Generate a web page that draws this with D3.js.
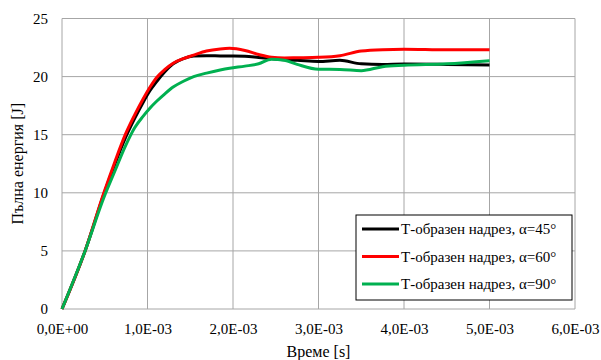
<!DOCTYPE html>
<html>
<head>
<meta charset="utf-8">
<script src="https://cdn.jsdelivr.net/npm/d3@7"></script>
<style>
body{margin:0;background:#fff;}
svg text{font-family:"Liberation Serif","Times New Roman","Tinos","DejaVu Serif","Noto Serif",serif;fill:#000;}
</style>
</head>
<body>
<svg id="chart" width="601" height="360"></svg>
<script>
// Time in units of 1E-3 s
const times = [0, 0.27, 0.49, 0.62, 0.74, 0.85, 0.95, 1.03, 1.11, 1.2, 1.3, 1.42, 1.54, 1.69, 1.85, 1.96, 2.14, 2.3, 2.45, 2.6, 2.75, 3.0, 3.25, 3.5, 3.75, 4.0, 4.5, 5.0];
const black45 = [0, 5, 9.9, 12.5, 14.7, 16.4, 17.8, 18.8, 19.6, 20.4, 21.1, 21.55, 21.77, 21.8, 21.78, 21.77, 21.75, 21.65, 21.55, 21.45, 21.4, 21.3, 21.4, 21.1, 21.05, 21.08, 21.05, 21.0];
const red60 = [0, 5, 10, 12.7, 15.0, 16.7, 18.1, 19.1, 19.95, 20.6, 21.15, 21.55, 21.85, 22.2, 22.38, 22.43, 22.25, 21.9, 21.66, 21.6, 21.62, 21.66, 21.8, 22.2, 22.32, 22.35, 22.3, 22.3];
const green90 = [0, 5, 9.6, 11.9, 14.0, 15.6, 16.6, 17.3, 17.9, 18.5, 19.1, 19.6, 20.0, 20.3, 20.57, 20.72, 20.9, 21.1, 21.5, 21.4, 21.05, 20.63, 20.62, 20.51, 20.85, 20.97, 21.1, 21.37];
const seriesNames = ["Т-образен надрез, α=45°", "Т-образен надрез, α=60°", "Т-образен надрез, α=90°"];
const seriesColors = ["#000000", "#ff0000", "#00b050"];
const xTicks = [0, 1, 2, 3, 4, 5, 6];
const xTickLabels = ["0,0E+00", "1,0E-03", "2,0E-03", "3,0E-03", "4,0E-03", "5,0E-03", "6,0E-03"];
const yTicks = [0, 5, 10, 15, 20, 25];
const xTitle = "Време [s]";
const yTitle = "Пълна енергия [J]";

const FONT = "'Liberation Serif','Times New Roman','Tinos','DejaVu Serif','Noto Serif',serif";
const svg = d3.select("#chart");
const pLeft = 62, pRight = 575, pTop = 18.5, pBottom = 309;
const x = d3.scaleLinear().domain([0, 6]).range([pLeft, pRight]);
const y = d3.scaleLinear().domain([0, 25]).range([pBottom, pTop]);

// gridlines
const grid = svg.append("g");
grid.selectAll("line.v").data(xTicks).enter().append("line")
  .attr("x1", d => x(d)).attr("x2", d => x(d))
  .attr("y1", y(0)).attr("y2", y(25))
  .attr("stroke", "#a6a6a6").attr("stroke-width", 1);
grid.selectAll("line.h").data(yTicks).enter().append("line")
  .attr("x1", x(0)).attr("x2", x(6))
  .attr("y1", d => y(d)).attr("y2", d => y(d))
  .attr("stroke", "#a6a6a6").attr("stroke-width", 1);

// axes with library
const xAxis = d3.axisBottom(x).tickValues(xTicks).tickSize(0).tickPadding(14)
  .tickFormat((d, i) => xTickLabels[i]);
const gx = svg.append("g").attr("transform", `translate(0,${pBottom})`).call(xAxis)
  .attr("font-family", FONT);
gx.select(".domain").remove();
gx.selectAll("text").style("font-size", "15px").style("font-family", FONT);

const yAxis = d3.axisLeft(y).tickValues(yTicks).tickSize(0).tickPadding(14);
const gy = svg.append("g").attr("transform", `translate(${pLeft},0)`).call(yAxis)
  .attr("font-family", FONT);
gy.select(".domain").remove();
gy.selectAll("text").style("font-size", "15px").style("font-family", FONT);

// series lines
const allSeries = [black45, red60, green90];
const line = d3.line().x(d => x(d[0])).y(d => y(d[1])).curve(d3.curveMonotoneX);
allSeries.forEach((vals, i) => {
  svg.append("path")
    .datum(times.map((t, j) => [t, vals[j]]))
    .attr("d", line)
    .attr("fill", "none")
    .attr("stroke", seriesColors[i])
    .attr("stroke-width", 3)
    .attr("stroke-linejoin", "round");
});

// titles
svg.append("text").attr("x", (pLeft + pRight) / 2).attr("y", 357)
  .attr("text-anchor", "middle").style("font-size", "16px").style("font-family", FONT).text(xTitle);
svg.append("text").attr("transform", `translate(23,${(pTop + pBottom) / 2}) rotate(-90)`)
  .attr("text-anchor", "middle").style("font-size", "16px").style("font-family", FONT).text(yTitle);

// legend
const lg = svg.append("g");
lg.append("rect").attr("x", 356).attr("y", 215).attr("width", 216).attr("height", 85)
  .attr("fill", "#fff").attr("stroke", "#000").attr("stroke-width", 1);
seriesNames.forEach((name, i) => {
  const cy = 229 + i * 27.5;
  lg.append("line").attr("x1", 362).attr("x2", 399).attr("y1", cy).attr("y2", cy)
    .attr("stroke", seriesColors[i]).attr("stroke-width", 3);
  lg.append("text").attr("x", 401).attr("y", cy + 5).style("font-size", "15px").style("font-family", FONT).text(name);
});
</script>
</body>
</html>
